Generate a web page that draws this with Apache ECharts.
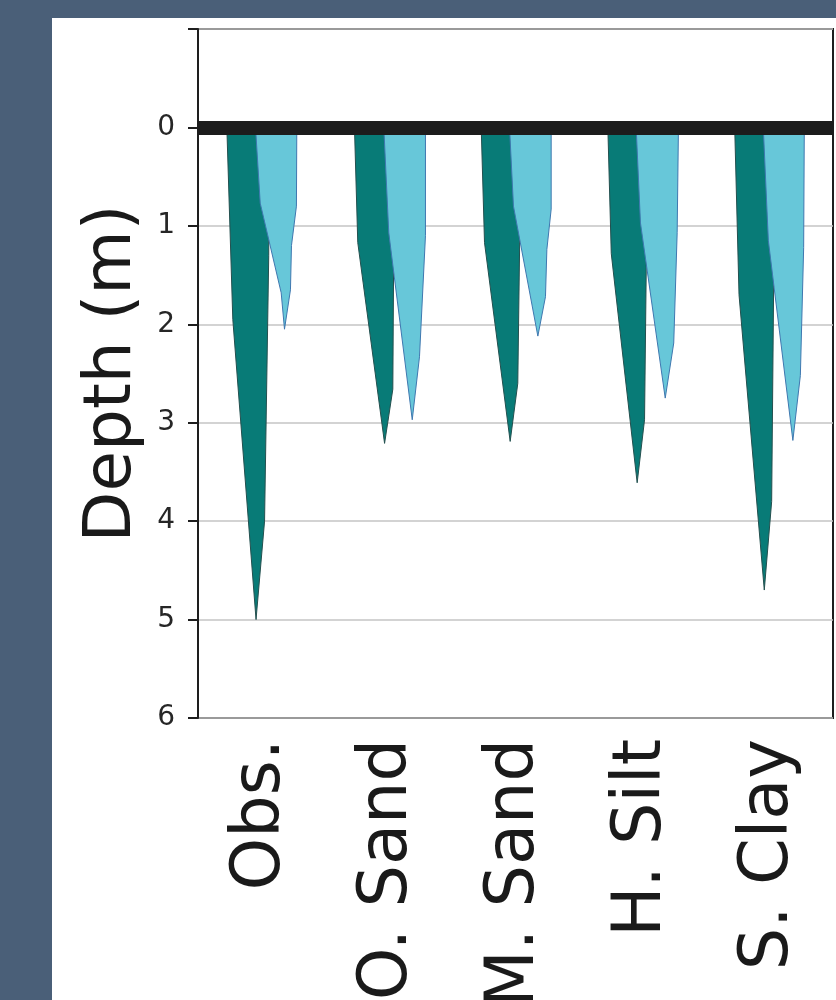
<!DOCTYPE html>
<html>
<head>
<meta charset="utf-8">
<script src="https://cdn.jsdelivr.net/npm/echarts@6/dist/echarts.min.js"></script>
<style>
  html, body { margin: 0; padding: 0; }
  body { width: 836px; height: 1000px; background: #4a5f78; position: relative; overflow: hidden; }
  #chart { position: absolute; left: 52px; top: 18px; width: 784px; height: 982px; background: #ffffff; }
</style>
</head>
<body>
<div id="chart"></div>
<script>
// Soil / model cases along the x axis
const categories = ['Obs.', 'O. Sand', 'M. Sand', 'H. Silt', 'S. Clay'];

// Depth axis (m), drawn downward
const depthMin = -1;
const depthMax = 6;
const depthTicks = [0, 1, 2, 3, 4, 5, 6];

// Profile outlines: [offset from category centre (in category widths), depth (m)]
const darkProfiles = [
  [[-0.273, 0], [-0.226, 1.95], [-0.043, 5.0], [0.024, 4.0], [0.057, 1.3], [0.060, 0]],
  [[-0.268, 0], [-0.242, 1.17], [-0.031, 3.21], [0.034, 2.66], [0.047, 0]],
  [[-0.270, 0], [-0.244, 1.17], [-0.042, 3.19], [0.018, 2.60], [0.045, 0]],
  [[-0.273, 0], [-0.246, 1.28], [-0.042, 3.61], [0.016, 2.97], [0.042, 0]],
  [[-0.274, 0], [-0.240, 1.70], [-0.041, 4.70], [0.017, 3.80], [0.044, 0]]
];

const lightProfiles = [
  [[-0.047, 0], [-0.010, 0.77], [0.155, 1.68], [0.181, 2.05], [0.228, 1.65], [0.236, 1.20], [0.275, 0.80], [0.278, 0]],
  [[-0.037, 0], [0.002, 1.07], [0.187, 2.97], [0.244, 2.33], [0.291, 1.10], [0.291, 0]],
  [[-0.047, 0], [-0.016, 0.80], [0.176, 2.12], [0.236, 1.72], [0.247, 1.24], [0.281, 0.83], [0.281, 0]],
  [[-0.050, 0], [-0.016, 0.97], [0.179, 2.75], [0.246, 2.19], [0.273, 1.07], [0.283, 0]],
  [[-0.049, 0], [-0.009, 1.15], [0.184, 3.18], [0.243, 2.52], [0.269, 1.22], [0.274, 0]]
];

const surfaceDepth = 0;

const FONT = 'DejaVu Sans';

function profileRenderer(profiles, fill, stroke) {
  return function (params, api) {
    const idx = api.value(0);
    const band = api.size([1, 0])[0];
    const pts = profiles[idx].map(function (p) {
      const c = api.coord([idx, p[1]]);
      return [c[0] + p[0] * band, c[1]];
    });
    return {
      type: 'polygon',
      shape: { points: pts },
      style: { fill: fill, stroke: stroke, lineWidth: 1 }
    };
  };
}

const chart = echarts.init(document.getElementById('chart'), null, { renderer: 'canvas' });

chart.setOption({
  animation: false,
  backgroundColor: '#ffffff',
  grid: {
    left: 146, top: 11, right: 3, bottom: 282,
    containLabel: false,
    outerBoundsMode: 'none',
    show: true, borderColor: '#1e1e1e', borderWidth: 2, backgroundColor: 'transparent'
  },
  xAxis: {
    type: 'category',
    data: categories,
    boundaryGap: true,
    axisLine: { show: true, lineStyle: { color: '#1e1e1e', width: 2 } },
    axisTick: { show: false },
    splitLine: { show: false },
    axisLabel: {
      rotate: 90,
      margin: 21,
      fontFamily: FONT,
      fontSize: 67,
      color: '#1a1a1a',
      interval: 0
    }
  },
  yAxis: {
    type: 'value',
    inverse: true,
    min: depthMin,
    max: depthMax,
    interval: 1,
    name: 'Depth (m)',
    nameLocation: 'middle',
    nameRotate: 90,
    nameGap: 50,
    nameTextStyle: { fontFamily: FONT, fontSize: 66, color: '#1a1a1a' },
    axisLine: { show: true, lineStyle: { color: '#1e1e1e', width: 2 } },
    axisTick: { show: true, inside: false, length: 10, lineStyle: { color: '#1e1e1e', width: 2 } },
    axisLabel: {
      margin: 23,
      fontFamily: FONT,
      fontSize: 28,
      color: '#262626',
      formatter: function (v) { return depthTicks.indexOf(v) >= 0 ? String(v) : ''; }
    },
    splitLine: { show: true, lineStyle: { color: '#c4c4c4', width: 1.5 } }
  },
  series: [
    {
      type: 'custom',
      name: 'dark',
      data: categories.map(function (c, i) { return [i]; }),
      renderItem: profileRenderer(darkProfiles, '#087b77', '#24504f'),
      encode: { x: 0 },
      z: 2,
      silent: true
    },
    {
      type: 'custom',
      name: 'light',
      data: categories.map(function (c, i) { return [i]; }),
      renderItem: profileRenderer(lightProfiles, '#67c7d9', '#3f78b0'),
      encode: { x: 0 },
      z: 3,
      silent: true,
      markLine: {
        silent: true,
        symbol: 'none',
        label: { show: false },
        lineStyle: { color: '#1c1c1c', width: 14, type: 'solid' },
        data: [{ yAxis: surfaceDepth }],
        z: 10
      }
    }
  ]
});
</script>
</body>
</html>
